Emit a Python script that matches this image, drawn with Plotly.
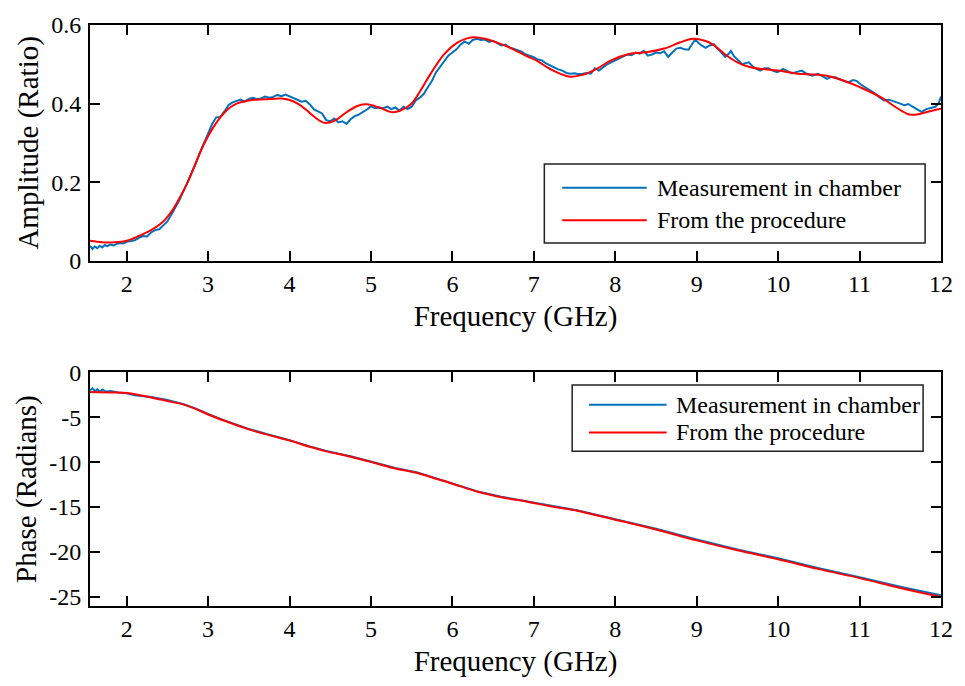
import plotly.graph_objects as go

# ---------------- data ----------------
amp_meas_f = [1.55, 1.58, 1.61, 1.64, 1.67, 1.70, 1.73, 1.76, 1.80, 1.84, 1.88, 1.92, 1.96, 2.00, 2.05, 2.10,
              2.15, 2.20, 2.25, 2.30, 2.35, 2.40, 2.45, 2.50, 2.55, 2.60, 2.65, 2.70, 2.75, 2.80, 2.85, 2.90,
              2.95, 3.00, 3.05, 3.10, 3.15, 3.20, 3.25, 3.30, 3.35, 3.40, 3.45, 3.50, 3.55, 3.60, 3.65, 3.70,
              3.75, 3.80, 3.85, 3.90, 3.95, 4.00, 4.05, 4.10, 4.15, 4.20, 4.25, 4.30, 4.35, 4.40, 4.45, 4.50,
              4.55, 4.60, 4.65, 4.70, 4.75, 4.80, 4.85, 4.90, 4.95, 5.00, 5.05, 5.10, 5.15, 5.20, 5.25, 5.30,
              5.35, 5.40, 5.45, 5.50, 5.55, 5.60, 5.65, 5.70, 5.75, 5.80, 5.85, 5.90, 5.95, 6.00, 6.05, 6.10,
              6.15, 6.20, 6.25, 6.30, 6.35, 6.40, 6.45, 6.50, 6.55, 6.60, 6.65, 6.70, 6.75, 6.80, 6.85, 6.90,
              6.95, 7.00, 7.05, 7.10, 7.15, 7.20, 7.25, 7.30, 7.35, 7.40, 7.45, 7.50, 7.55, 7.60, 7.65, 7.70,
              7.75, 7.80, 7.85, 7.90, 7.95, 8.00, 8.05, 8.10, 8.15, 8.20, 8.25, 8.30, 8.35, 8.40, 8.45, 8.50,
              8.55, 8.60, 8.65, 8.70, 8.75, 8.80, 8.85, 8.90, 8.95, 8.98, 9.02, 9.06, 9.11, 9.16, 9.21, 9.26,
              9.30, 9.35, 9.40, 9.42, 9.46, 9.50, 9.56, 9.60, 9.64, 9.70, 9.75, 9.78, 9.83, 9.88, 9.93, 9.99,
              10.03, 10.06, 10.12, 10.17, 10.22, 10.29, 10.35, 10.42, 10.49, 10.55, 10.60, 10.65, 10.70, 10.78,
              10.86, 10.92, 10.96, 11.02, 11.08, 11.15, 11.20, 11.25, 11.30, 11.36, 11.43, 11.50, 11.55, 11.60,
              11.65, 11.70, 11.76, 11.82, 11.88, 11.93, 11.97, 11.99, 12.00]
amp_meas = [0.038, 0.030, 0.036, 0.032, 0.038, 0.034, 0.040, 0.037, 0.041, 0.039, 0.043, 0.045, 0.044, 0.048, 0.050, 0.052,
            0.058, 0.063, 0.062, 0.072, 0.078, 0.080, 0.090, 0.100, 0.118, 0.135, 0.155, 0.178, 0.200, 0.222, 0.248, 0.275,
            0.300, 0.325, 0.348, 0.365, 0.366, 0.380, 0.396, 0.403, 0.406, 0.410, 0.405, 0.412, 0.415, 0.411, 0.413, 0.418,
            0.415, 0.417, 0.422, 0.419, 0.423, 0.418, 0.415, 0.410, 0.405, 0.407, 0.398, 0.385, 0.380, 0.375, 0.358, 0.355,
            0.362, 0.352, 0.355, 0.348, 0.360, 0.368, 0.372, 0.378, 0.385, 0.393, 0.388, 0.390, 0.388, 0.392, 0.386, 0.390,
            0.382, 0.392, 0.386, 0.392, 0.408, 0.415, 0.425, 0.442, 0.458, 0.480, 0.495, 0.510, 0.522, 0.530, 0.538, 0.550,
            0.558, 0.552, 0.562, 0.565, 0.562, 0.563, 0.557, 0.560, 0.553, 0.548, 0.550, 0.543, 0.540, 0.536, 0.532, 0.525,
            0.522, 0.518, 0.512, 0.510, 0.502, 0.498, 0.492, 0.487, 0.484, 0.478, 0.476, 0.477, 0.475, 0.476, 0.478, 0.476,
            0.490, 0.484, 0.492, 0.500, 0.505, 0.510, 0.513, 0.520, 0.525, 0.523, 0.530, 0.527, 0.534, 0.522, 0.525, 0.530,
            0.528, 0.533, 0.519, 0.530, 0.540, 0.542, 0.538, 0.537, 0.552, 0.563, 0.555, 0.548, 0.542, 0.548, 0.551, 0.540,
            0.530, 0.519, 0.528, 0.534, 0.520, 0.512, 0.500, 0.503, 0.505, 0.492, 0.486, 0.484, 0.490, 0.490, 0.484, 0.480,
            0.484, 0.488, 0.482, 0.477, 0.480, 0.484, 0.476, 0.471, 0.476, 0.469, 0.463, 0.468, 0.467, 0.460,
            0.454, 0.460, 0.458, 0.448, 0.440, 0.429, 0.424, 0.415, 0.408, 0.410, 0.404, 0.400, 0.396, 0.399,
            0.392, 0.387, 0.379, 0.386, 0.390, 0.392, 0.400, 0.412, 0.418]

amp_proc_f = [1.55, 1.70, 1.85, 2.00, 2.15, 2.30, 2.45, 2.55, 2.65, 2.75, 2.85, 2.95, 3.05, 3.15, 3.25, 3.35,
              3.50, 3.70, 3.90, 4.00, 4.10, 4.20, 4.30, 4.43, 4.55, 4.70, 4.85, 4.95, 5.10, 5.27, 5.40, 5.50,
              5.60, 5.73, 5.90, 6.06, 6.18, 6.27, 6.40, 6.55, 6.71, 6.90, 7.04, 7.20, 7.43, 7.60, 7.77, 7.95,
              8.17, 8.40, 8.60, 8.80, 8.95, 9.10, 9.20, 9.35, 9.50, 9.65, 9.80, 10.00, 10.24, 10.45, 10.60, 10.85,
              11.00, 11.27, 11.45, 11.60, 11.70, 11.85, 12.00]
amp_proc = [0.051, 0.047, 0.047, 0.051, 0.063, 0.078, 0.100, 0.125, 0.160, 0.200, 0.250, 0.297, 0.335, 0.365, 0.387, 0.400,
            0.408, 0.411, 0.413, 0.409, 0.400, 0.385, 0.367, 0.351, 0.356, 0.378, 0.395, 0.398, 0.390, 0.378, 0.386, 0.400,
            0.430, 0.475, 0.526, 0.555, 0.566, 0.569, 0.565, 0.555, 0.542, 0.522, 0.509, 0.488, 0.469, 0.473, 0.488, 0.510,
            0.526, 0.531, 0.540, 0.556, 0.565, 0.560, 0.550, 0.525, 0.505, 0.493, 0.488, 0.484, 0.476, 0.474, 0.471, 0.455,
            0.442, 0.415, 0.390, 0.373, 0.372, 0.380, 0.387]

phase_meas_f = [1.55, 1.58, 1.61, 1.64, 1.67, 1.70, 1.75, 1.80, 1.90, 2.00, 2.10, 2.30, 2.50, 2.70, 2.85, 3.00,
                3.20, 3.48, 3.75, 4.00, 4.25, 4.45, 4.75, 5.09, 5.30, 5.57, 5.75, 5.90, 6.10, 6.31, 6.60, 6.92,
                7.20, 7.53, 8.00, 8.50, 9.00, 9.50, 10.00, 10.50, 11.00, 11.50, 12.00]
phase_meas = [-2.0, -1.8, -2.1, -1.9, -2.2, -1.95, -2.15, -2.1, -2.25, -2.35, -2.55, -2.75, -3.1, -3.55, -4.05, -4.65,
              -5.35, -6.25, -6.95, -7.55, -8.25, -8.75, -9.35, -10.15, -10.65, -11.15, -11.65, -12.05, -12.65, -13.25, -13.85, -14.35,
              -14.85, -15.35, -16.35, -17.4, -18.6, -19.7, -20.7, -21.8, -22.8, -23.85, -24.8]

phase_proc_f = [1.55, 1.80, 2.00, 2.10, 2.30, 2.50, 2.70, 2.85, 3.00, 3.20, 3.48, 3.75, 4.00, 4.25, 4.45, 4.75,
                5.09, 5.30, 5.57, 5.75, 5.90, 6.10, 6.31, 6.60, 6.92, 7.20, 7.53, 8.00, 8.50, 9.00, 9.50, 10.00,
                10.50, 11.00, 11.50, 12.00]
phase_proc = [-2.2, -2.25, -2.3, -2.45, -2.8, -3.2, -3.6, -4.1, -4.7, -5.4, -6.3, -7.0, -7.6, -8.3, -8.8, -9.4,
              -10.2, -10.7, -11.2, -11.7, -12.1, -12.7, -13.3, -13.9, -14.4, -14.9, -15.4, -16.4, -17.5, -18.7, -19.8, -20.8,
              -21.9, -22.9, -24.0, -25.0]

legend_labels = ["Measurement in chamber", "From the procedure"]
x_ticks = [2, 3, 4, 5, 6, 7, 8, 9, 10, 11, 12]
amp_ticks = [0, 0.2, 0.4, 0.6]
amp_tick_text = ["0", "0.2", "0.4", "0.6"]
phase_ticks = [0, -5, -10, -15, -20, -25]
phase_tick_text = ["0", "-5", "-10", "-15", "-20", "-25"]

# ---------------- styling ----------------
BLUE = "#0072BD"
RED = "#FF0000"
FONT = "Liberation Serif"
W, H = 965, 686
ML, MR, MT, MB = 90, 19, 17, 80
PW, PH = W - ML - MR, H - MT - MB


def px_x(px):
    return (px - ML) / PW


def px_y(py):
    return (H - MB - py) / PH


fig = go.Figure()
fig.add_trace(go.Scatter(x=amp_meas_f, y=amp_meas, mode="lines", line=dict(color=BLUE, width=2),
                         xaxis="x", yaxis="y", showlegend=False, name=legend_labels[0]))
fig.add_trace(go.Scatter(x=amp_proc_f, y=amp_proc, mode="lines", line=dict(color=RED, width=2, shape="spline"),
                         xaxis="x", yaxis="y", showlegend=False, name=legend_labels[1]))
fig.add_trace(go.Scatter(x=phase_meas_f, y=phase_meas, mode="lines", line=dict(color=BLUE, width=2),
                         xaxis="x2", yaxis="y2", showlegend=False, name=legend_labels[0]))
fig.add_trace(go.Scatter(x=phase_proc_f, y=phase_proc, mode="lines", line=dict(color=RED, width=2, shape="spline"),
                         xaxis="x2", yaxis="y2", showlegend=False, name=legend_labels[1]))

axis_common = dict(showline=True, linecolor="black", linewidth=2, mirror="allticks", ticks="inside",
                   ticklen=10, tickwidth=2, tickcolor="black", showgrid=False, zeroline=False,
                   tickfont=dict(family=FONT, size=24, color="black"))

TITLE_SIZE = 29
top_dom = [px_y(256), 1.0]
bot_dom = [0.0, px_y(369)]

fig.update_layout(
    width=W, height=H,
    margin=dict(l=ML, r=MR, t=MT, b=MB),
    paper_bgcolor="white", plot_bgcolor="white",
    font=dict(family=FONT, color="black"),
    xaxis=dict(axis_common, domain=[0, 1], range=[1.55, 12], tickvals=x_ticks, anchor="y",
               title=dict(text="Frequency (GHz)", font=dict(family=FONT, size=TITLE_SIZE), standoff=10)),
    yaxis=dict(axis_common, domain=top_dom, range=[0, 0.6], tickvals=amp_ticks, ticktext=amp_tick_text, anchor="x",
               ticklabelstandoff=2,
               title=dict(text="Amplitude (Ratio)", font=dict(family=FONT, size=TITLE_SIZE), standoff=4)),
    xaxis2=dict(axis_common, domain=[0, 1], range=[1.55, 12], tickvals=x_ticks, anchor="y2",
                title=dict(text="Frequency (GHz)", font=dict(family=FONT, size=TITLE_SIZE), standoff=10)),
    yaxis2=dict(axis_common, domain=bot_dom, range=[-26, 0], tickvals=phase_ticks, ticktext=phase_tick_text, anchor="x2",
                ticklabelstandoff=2,
                title=dict(text="Phase (Radians)", font=dict(family=FONT, size=TITLE_SIZE), standoff=4)),
)

# legends drawn as boxes, sample lines and text
legends = [
    dict(box=(547, 158, 930, 238), line_x=(565, 650), rows=(182, 215), text_x=658),
    dict(box=(575, 382, 928, 449), line_x=(592, 670), rows=(402, 430), text_x=677),
]
for lg in legends:
    x0, y0, x1, y1 = lg["box"]
    fig.add_shape(type="rect", xref="paper", yref="paper", x0=px_x(x0), x1=px_x(x1), y0=px_y(y1), y1=px_y(y0),
                  line=dict(color="#222222", width=1.5), fillcolor="white", layer="above")
    for label, color, ry in zip(legend_labels, [BLUE, RED], lg["rows"]):
        fig.add_shape(type="line", xref="paper", yref="paper", x0=px_x(lg["line_x"][0]), x1=px_x(lg["line_x"][1]),
                      y0=px_y(ry), y1=px_y(ry), line=dict(color=color, width=2), layer="above")
        fig.add_annotation(xref="paper", yref="paper", x=px_x(lg["text_x"]), y=px_y(ry), text=label,
                           showarrow=False, xanchor="left", yanchor="middle",
                           font=dict(family=FONT, size=24, color="black"))

fig.write_html("out.html")
